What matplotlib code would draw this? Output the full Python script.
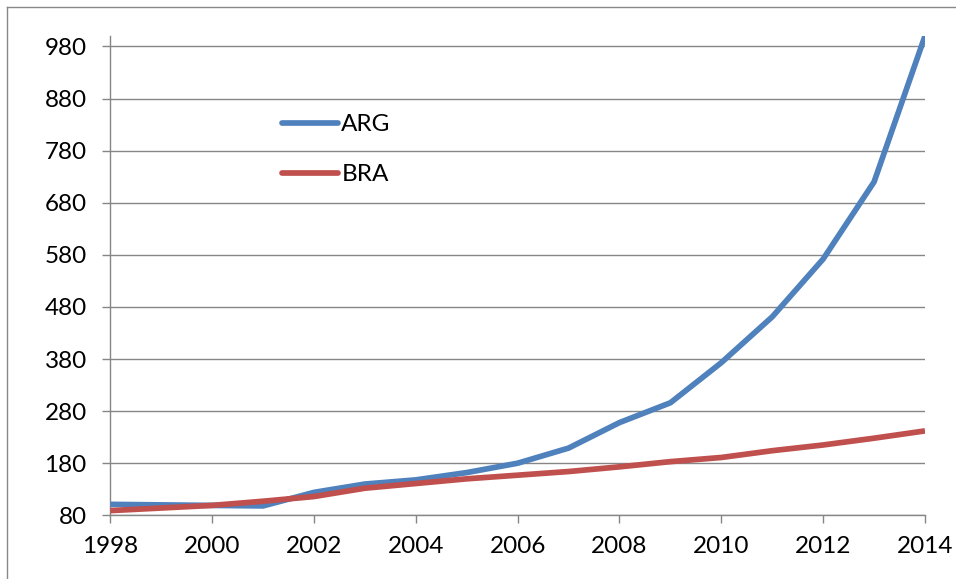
import matplotlib
matplotlib.use("Agg")
import matplotlib.pyplot as plt
from matplotlib.lines import Line2D

years = list(range(1998, 2015))
arg = [101, 100, 99, 98, 124, 140, 148, 162, 180, 209, 258, 296, 373, 461, 572, 720, 1000]
bra = [89, 94, 99, 107, 116, 132, 141, 150, 157, 164, 173, 183, 191, 204, 215, 228, 242]
series_names = ["ARG", "BRA"]
y_ticks = list(range(80, 1001, 100))
x_ticks = list(range(1998, 2015, 2))

plt.rcParams['font.family'] = ['Lato', 'DejaVu Sans']

W, H = 956, 579
FS = 17.5
fig = plt.figure(figsize=(W / 100, H / 100), dpi=100)
ax = fig.add_axes([110.3 / W, 1 - 515.3 / H, (925 - 110.3) / W, (515.3 - 36) / H])

grid_c = '#868686'
ax.plot(years, arg, color='#4F81BD', lw=4.1, solid_capstyle='butt', solid_joinstyle='round', label=series_names[0], zorder=3)
ax.plot(years, bra, color='#C0504D', lw=4.1, solid_capstyle='butt', solid_joinstyle='round', label=series_names[1], zorder=3)

ax.set_xlim(1998, 2014)
ax.set_ylim(80, 1000)
ax.set_xticks(x_ticks)
ax.set_yticks(y_ticks)
ax.tick_params(axis='both', labelsize=FS, colors=grid_c, labelcolor='black', length=6, width=1.0, direction='out')
ax.tick_params(axis='y', pad=11)
ax.tick_params(axis='x', pad=9)
ax.yaxis.grid(True, color=grid_c, lw=1.0)
ax.set_axisbelow(True)
for s in ['top', 'right']:
    ax.spines[s].set_visible(False)
for s in ['left', 'bottom']:
    ax.spines[s].set_color(grid_c)
    ax.spines[s].set_linewidth(1.0)

leg = ax.legend(loc='upper left', bbox_to_anchor=(282 / W, 1 - 114 / H), bbox_transform=fig.transFigure,
                frameon=False, fontsize=FS, handlelength=2.3, handletextpad=0.14,
                labelspacing=1.2, borderpad=0, borderaxespad=0)
for h in leg.get_lines():
    h.set_solid_capstyle('round')

# chart-area border
fig.add_artist(Line2D([7.3 / W, 7.3 / W], [0, 1 - 6.7 / H], color='#888888', lw=1.0, transform=fig.transFigure))
fig.add_artist(Line2D([7.3 / W, 1], [1 - 6.7 / H, 1 - 6.7 / H], color='#888888', lw=1.0, transform=fig.transFigure))

fig.savefig('out.png', dpi=100)
